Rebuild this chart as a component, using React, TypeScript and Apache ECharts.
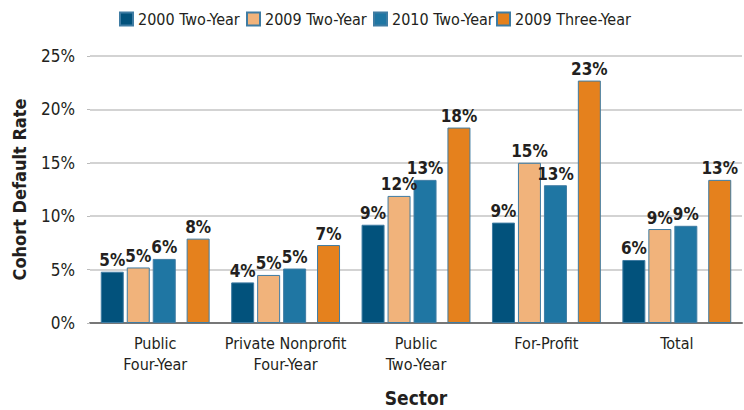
import React, { useEffect, useRef } from "react";
import * as echarts from "echarts";

const categories = ["Public\nFour-Year", "Private Nonprofit\nFour-Year", "Public\nTwo-Year", "For-Profit", "Total"];
const seriesNames = ["2000 Two-Year", "2009 Two-Year", "2010 Two-Year", "2009 Three-Year"];
const rate2000TwoYear = [4.8, 3.8, 9.2, 9.4, 5.9];
const rate2009TwoYear = [5.2, 4.5, 11.9, 15.0, 8.8];
const rate2010TwoYear = [6.0, 5.1, 13.4, 12.9, 9.1];
const rate2009ThreeYear = [7.9, 7.3, 18.3, 22.7, 13.4];
const yTicks = { min: 0, max: 25, interval: 5 };

const colors = ["#02527c", "#f1b37b", "#1f76a3", "#e5811d"];
const legendLefts = [114, 241, 368, 491];
const FONT = '"Noto Sans Condensed", "Liberation Sans Narrow", "DejaVu Sans Condensed", sans-serif';

export default function App() {
  const ref = useRef<HTMLDivElement>(null);
  useEffect(() => {
    document.body.style.margin = "0";
    const chart = echarts.init(ref.current!, null, { renderer: "svg" });
    const values = [rate2000TwoYear, rate2009TwoYear, rate2010TwoYear, rate2009ThreeYear];
    const label = {
      show: true,
      position: "top",
      distance: 3,
      fontFamily: FONT,
      fontWeight: "bold",
      fontSize: 17,
      color: "#231f20",
      formatter: (p: any) => Math.round(p.value) + "%",
    };
    const mk = (i: number) => ({
      name: seriesNames[i],
      type: "bar",
      data: values[i],
      barWidth: 23,
      barGap: "13%",
      itemStyle: { color: colors[i], borderColor: "#3f7ca3", borderWidth: 1 },
      label,
    });
    const spacer = {
      name: "spacer",
      type: "bar",
      data: categories.map(() => null),
      barWidth: 7,
      barGap: "13%",
      silent: true,
    };
    chart.setOption({
      animation: false,
      textStyle: { fontFamily: FONT },
      legend: seriesNames.map((n, i) => ({
        data: [n],
        left: legendLefts[i],
        top: 6,
        itemWidth: 13,
        itemHeight: 13,
        itemGap: 5,
        icon: "rect",
        textStyle: { fontFamily: FONT, fontSize: 16, color: "#231f20" },
      })),
      grid: { left: 90, right: 2, top: 56, bottom: 87, outerBoundsMode: "none" },
      xAxis: {
        type: "category",
        data: categories,
        name: "Sector",
        nameLocation: "middle",
        nameGap: 65,
        nameTextStyle: { fontFamily: FONT, fontWeight: "bold", fontSize: 19, color: "#231f20" },
        axisLine: { lineStyle: { color: "#777", width: 2 } },
        axisTick: { show: false },
        axisLabel: { fontFamily: FONT, fontSize: 16, color: "#231f20", margin: 10, lineHeight: 21, interval: 0 },
      },
      yAxis: {
        type: "value",
        min: yTicks.min,
        max: yTicks.max,
        interval: yTicks.interval,
        name: "Cohort Default Rate",
        nameLocation: "middle",
        nameGap: 62,
        nameTextStyle: { fontFamily: FONT, fontWeight: "bold", fontSize: 18, color: "#231f20" },
        axisLine: { show: false },
        axisTick: { show: true, length: 3, lineStyle: { color: "#bbb" } },
        axisLabel: { formatter: "{value}%", fontFamily: FONT, fontSize: 17, color: "#231f20", margin: 15 },
        splitLine: { lineStyle: { color: "#c4c4c4", width: 1.5 } },
      },
      series: [mk(0), mk(1), mk(2), spacer, mk(3)],
    });
    return () => chart.dispose();
  }, []);
  return <div ref={ref} style={{ position: "absolute", left: 0, top: 0, width: 744, height: 410 }} />;
}
